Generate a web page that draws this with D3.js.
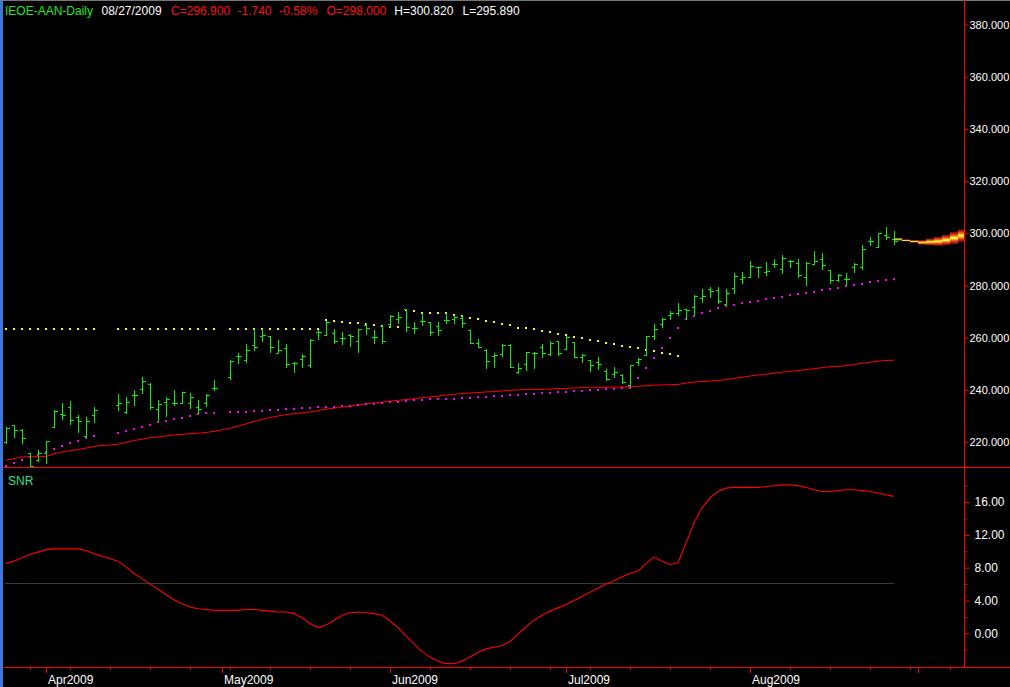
<!DOCTYPE html>
<html><head><meta charset="utf-8">
<script src="https://cdn.jsdelivr.net/npm/d3@7"></script>
<style>
html,body{margin:0;padding:0;background:#000;overflow:hidden}
svg{display:block}
text{font-family:"Liberation Sans",Arial,sans-serif}
</style></head><body>
<svg id="c" width="1010" height="687"></svg>
<script>
// ---------- DATA ----------
const firstDay = "2009-03-25", axisLastDay = "2009-09-11";
const holidays = ["2009-04-10","2009-04-13","2009-05-01"];
const N = null;
const open  = [220.2,226.4,224.7,216.0,213.2,216.0,225.7,230.7,233.3,229.5,222.4,230.3,N,N,234.1,231.4,238.1,240.2,242.3,232.6,235.4,234.9,235.1,234.9,233.3,234.9,240.6,N,244.8,252.8,251.5,257.3,260.7,260.7,254.0,255.9,250.2,251.9,249.4,262.1,261.2,261.9,260.0,260.9,258.9,265.0,260.4,264.6,265.1,267.2,270.9,263.9,266.3,266.0,264.6,266.8,267.0,267.7,263.0,258.1,255.3,253.0,253.7,257.1,246.9,249.9,254.2,256.6,253.7,258.6,255.8,258.4,252.7,251.5,250.8,247.4,246.1,245.6,241.8,250.7,253.2,260.7,265.3,268.6,269.3,270.9,271.6,275.2,278.8,278.3,273.0,279.0,282.6,283.4,287.2,285.2,288.2,286.5,289.3,288.8,283.4,288.2,290.3,285.9,282.1,282.6,287.2,287.0,296.9,294.6,299.2,298.0];
const high  = [225.7,226.4,224.9,216.0,217.0,220.3,232.3,234.9,235.8,230.4,229.5,233.3,N,N,238.4,237.2,240.0,244.8,242.5,236.1,237.2,240.0,239.2,238.7,236.1,238.4,243.8,N,251.5,254.0,257.6,263.2,263.2,260.7,259.1,257.6,250.8,253.8,259.4,263.0,266.5,263.2,262.2,261.4,263.2,265.5,263.0,264.9,268.7,269.7,271.0,266.0,269.6,266.0,266.0,269.6,268.6,268.6,263.0,259.4,255.8,254.0,257.6,257.6,250.2,254.6,254.5,257.6,258.6,258.6,260.7,258.4,253.7,251.5,252.5,247.9,248.7,246.1,249.4,252.2,260.7,265.3,267.6,270.1,273.2,271.1,276.2,278.5,279.3,279.3,278.5,284.7,285.2,289.3,287.2,289.0,290.0,291.8,289.8,290.0,289.0,293.1,292.3,285.9,284.4,284.7,288.5,295.4,298.5,300.2,302.3,300.82];
const low   = [219.8,222.1,219.8,210.6,212.9,212.1,225.7,229.0,227.1,223.9,222.1,227.7,N,N,232.3,231.3,234.4,239.0,232.6,228.2,230.0,234.2,234.9,233.1,231.0,233.8,240.0,N,244.3,250.2,250.5,255.1,258.6,254.7,254.0,248.9,247.0,248.9,248.7,259.4,261.2,258.1,257.6,256.8,254.6,261.4,257.9,258.1,264.2,265.8,262.7,261.9,265.0,261.0,261.0,265.8,265.8,264.0,257.9,256.3,248.4,248.9,253.0,248.7,246.6,247.6,248.4,252.7,253.2,253.2,255.8,252.5,250.7,247.4,248.1,243.8,245.1,242.8,241.5,249.7,253.2,259.4,264.2,267.3,268.8,267.3,268.6,273.7,275.7,273.2,272.7,277.3,281.1,283.1,283.1,283.9,287.2,284.7,287.0,283.1,280.3,288.2,286.5,280.8,281.9,280.1,285.2,286.5,295.6,294.6,297.7,295.89];
const close = [225.4,224.7,221.6,210.9,216.0,220.3,232.1,230.3,228.5,228.1,228.0,232.3,N,N,235.1,235.4,238.2,243.6,233.3,234.6,236.4,234.9,239.1,237.2,232.7,237.9,240.6,N,251.2,253.1,255.1,256.3,261.1,256.3,255.1,249.8,250.2,253.0,259.1,262.1,266.0,258.6,259.8,260.7,263.2,263.9,260.4,258.9,268.3,268.1,264.0,263.9,266.5,262.1,263.0,266.8,268.1,265.8,257.9,256.6,251.0,253.4,257.1,248.7,248.3,254.5,254.2,254.0,257.9,254.2,260.4,252.5,253.2,249.4,249.8,244.3,246.9,243.0,249.4,251.7,260.7,263.2,267.0,269.3,270.6,270.6,276.0,276.0,277.8,273.9,277.0,283.6,283.1,287.5,287.0,285.4,288.2,290.5,289.3,283.9,288.8,289.5,287.7,282.1,284.2,282.6,288.2,294.1,296.9,300.0,298.64,296.9];
const maRed = [213.0,213.7,214.3,214.4,214.4,214.5,215.5,216.2,216.7,217.2,217.7,218.3,218.7,218.9,219.2,219.9,220.6,221.1,221.7,222.0,222.4,222.7,223.0,223.2,223.4,223.7,224.1,224.7,225.3,226.1,227.0,227.9,228.7,229.4,230.0,230.5,230.9,231.2,231.5,232.1,232.6,233.0,233.4,233.8,234.2,234.6,235.0,235.3,235.7,236.0,236.3,236.6,237.0,237.3,237.6,238.0,238.3,238.6,238.8,239.0,239.2,239.4,239.6,239.8,240.0,240.1,240.2,240.2,240.3,240.5,240.6,240.7,240.9,241.0,241.0,241.0,241.1,241.1,241.3,241.4,241.6,241.8,241.9,242.0,242.1,242.6,243.0,243.2,243.4,243.6,243.9,244.4,244.8,245.3,245.7,246.0,246.4,246.8,247.1,247.4,247.8,248.1,248.5,248.9,249.0,249.3,249.7,250.2,250.6,251.0,251.3,251.4];
const dotsMagenta = [210.9,212.1,213.2,214.4,215.2,216.2,217.5,218.5,219.7,220.6,221.6,222.4,N,N,223.6,224.4,225.2,225.9,226.7,227.7,228.2,229.0,229.3,230.0,230.8,231.2,231.2,N,231.6,231.6,231.7,232.1,232.1,232.3,232.3,232.7,232.7,233.1,233.1,233.5,233.5,233.6,233.8,234.0,234.2,234.5,234.7,234.9,235.2,235.5,235.8,236.0,236.2,236.4,236.5,236.6,236.6,236.9,237.0,237.3,237.4,237.7,237.7,238.1,238.2,238.4,238.6,238.8,238.9,239.2,239.2,239.7,239.7,240.0,240.0,240.3,240.3,240.7,240.7,244.6,248.4,252.2,256.1,259.9,263.7,267.3,268.3,269.6,270.4,271.4,272.1,272.7,273.4,273.8,274.2,275.0,275.3,275.7,276.5,276.9,277.3,277.6,278.3,278.8,279.2,279.8,280.3,280.7,281.5,281.9,282.2,282.6];
const dotsYellow = [263.35,263.35,263.35,263.35,263.35,263.35,263.35,263.35,263.35,263.35,263.35,263.35,N,N,263.35,263.35,263.35,263.35,263.35,263.35,263.35,263.35,263.35,263.35,263.35,263.35,263.35,N,263.35,263.35,263.35,263.35,263.35,263.35,263.35,263.35,263.35,263.35,263.35,263.35,266.8,266.5,266.0,265.6,265.6,265.1,264.9,264.6,264.2,264.2,270.6,270.2,269.6,269.6,269.6,269.6,268.8,268.4,267.7,267.3,266.5,266.2,265.3,264.9,263.9,263.6,263.3,262.7,262.2,261.5,261.2,260.3,260.0,259.3,258.9,258.1,257.7,256.9,256.4,256.2,255.4,255.0,254.3,253.9,253.1];
const snr = [8.5,8.8,9.2,9.6,9.9,10.2,10.3,10.3,10.3,10.3,10.1,9.7,9.4,9.1,8.8,8.1,7.3,6.7,6.0,5.4,4.7,4.1,3.6,3.2,3.0,2.9,2.8,2.8,2.8,2.8,2.9,2.9,2.8,2.7,2.6,2.6,2.4,1.9,1.2,0.7,1.0,1.6,2.2,2.5,2.6,2.5,2.4,2.2,1.5,0.7,-0.3,-1.3,-2.2,-2.9,-3.4,-3.7,-3.7,-3.4,-2.9,-2.3,-1.9,-1.7,-1.5,-1.0,-0.1,0.8,1.6,2.2,2.7,3.1,3.5,4.0,4.5,5.0,5.5,6.0,6.4,6.9,7.3,7.6,8.5,9.3,8.8,8.4,8.6,11.0,13.5,15.3,16.5,17.3,17.7,17.8,17.8,17.8,17.8,17.9,18.0,18.1,18.1,18.0,17.8,17.5,17.3,17.3,17.4,17.5,17.5,17.4,17.3,17.1,16.9,16.7];
const snrRefLevel = 6.1;
const fanCenter = [297.7,297.3,296.9,296.5,296.7,296.9,297.4,298.2,299.1];
const fanHalf   = [0.2,0.4,0.5,0.9,1.3,1.7,2.0,2.3,2.4];
const priceTicks = [220,240,260,280,300,320,340,360,380];
const snrTicks = [0,4,8,12,16];
const snrMinorTicks = [-2,2,6,10,14,18];
const header = [
  {t:"IEOE-AAN-Daily", c:"#22e622", x:5},
  {t:"08/27/2009", c:"#ffffff", x:101.5},
  {t:"C=296.900", c:"#ff1010", x:171},
  {t:"-1.740", c:"#ff1010", x:237.5},
  {t:"-0.58%", c:"#ff1010", x:279.3},
  {t:"O=298.000", c:"#ff1010", x:326.5},
  {t:"H=300.820", c:"#ffffff", x:394.3},
  {t:"L=295.890", c:"#ffffff", x:462.5}
];

// ---------- SCALES ----------
const svg = d3.select("#c");
const W = 1010, H = 687;
const axisX = 964.5, sepY = 467.5, botY = 667.5;
const parse = d3.timeParse("%Y-%m-%d"), fmt = d3.timeFormat("%Y-%m-%d");
const days = d3.timeDay.range(parse(firstDay), d3.timeDay.offset(parse(axisLastDay),1))
  .filter(d => d.getDay() !== 0 && d.getDay() !== 6);
const nBars = close.length;
const x = d3.scaleLinear().domain([0, nBars-1]).range([6, 894]);
const y = d3.scaleLinear().domain([220, 380]).range([442.1, 24.5]);
const ys = d3.scaleLinear().domain([0, 16]).range([633.3, 502.1]);

svg.append("rect").attr("width",W).attr("height",H).attr("fill","#000");
const defs = svg.append("defs");
defs.append("clipPath").attr("id","cp1").append("rect").attr("x",3).attr("y",1).attr("width",axisX-3).attr("height",sepY-1);
defs.append("clipPath").attr("id","cp2").append("rect").attr("x",3).attr("y",sepY+0.5).attr("width",axisX-3).attr("height",botY-sepY-1);
const g = defs.append("linearGradient").attr("id","fang").attr("x1",0).attr("y1",0).attr("x2",0).attr("y2",1);
[["0%","#6a0a0a"],["18%","#d02818"],["34%","#ff7a2a"],["46%","#f4ff30"],["54%","#f4ff30"],["66%","#ff7a2a"],["82%","#d02818"],["100%","#6a0a0a"]]
  .forEach(s => g.append("stop").attr("offset",s[0]).attr("stop-color",s[1]));

// ---------- PRICE PANEL ----------
const p1 = svg.append("g").attr("clip-path","url(#cp1)");
p1.append("path").datum(maRed).attr("fill","none").attr("stroke","#ff0000").attr("stroke-width",1)
  .attr("d", d3.line().x((d,i)=>x(i)).y(d=>y(d)));
p1.selectAll(".yd").data(dotsYellow.map((v,i)=>({v,i})).filter(d=>d.v!==null)).join("rect")
  .attr("x",d=>Math.round(x(d.i))-1).attr("y",d=>Math.round(y(d.v))-1).attr("width",2).attr("height",2).attr("fill","#ffff00");
p1.selectAll(".md").data(dotsMagenta.map((v,i)=>({v,i})).filter(d=>d.v!==null)).join("rect")
  .attr("x",d=>Math.round(x(d.i))-1).attr("y",d=>Math.round(y(d.v))-1).attr("width",2).attr("height",2).attr("fill","#ff00ff");
const bars = close.map((c,i)=>({i,o:open[i],h:high[i],l:low[i],c})).filter(d=>d.c!==null);
const bg = p1.append("g").attr("stroke","#00f000").attr("stroke-width",1).attr("shape-rendering","crispEdges");
bars.forEach(d=>{
  const cx = Math.round(x(d.i))+0.5;
  bg.append("line").attr("x1",cx).attr("x2",cx).attr("y1",Math.round(y(d.h))).attr("y2",Math.round(y(d.l))+1);
  bg.append("line").attr("x1",cx-3).attr("x2",cx).attr("y1",Math.round(y(d.o))+0.5).attr("y2",Math.round(y(d.o))+0.5);
  bg.append("line").attr("x1",cx).attr("x2",cx+3).attr("y1",Math.round(y(d.c))+0.5).attr("y2",Math.round(y(d.c))+0.5);
});
fanCenter.forEach((c,k)=>{
  const x0 = x(nBars-1) + 8*k, hw = Math.max(1, y(c - fanHalf[k]) - y(c));
  p1.append("rect").attr("x",x0).attr("width",8).attr("y",y(c)-hw).attr("height",2*hw)
    .attr("fill", k===0 ? "#c8c830" : "url(#fang)");
});

// ---------- SNR PANEL ----------
const p2 = svg.append("g").attr("clip-path","url(#cp2)");
p2.append("line").attr("x1",5).attr("x2",x(nBars-1)).attr("y1",Math.round(ys(snrRefLevel))+0.5).attr("y2",Math.round(ys(snrRefLevel))+0.5)
  .attr("stroke","#3a3a3a").attr("stroke-width",1);
p2.append("path").datum(snr).attr("fill","none").attr("stroke","#ff0000").attr("stroke-width",1.1)
  .attr("d", d3.line().x((d,i)=>x(i)).y(d=>ys(d)));
svg.append("text").attr("x",8).attr("y",485).attr("fill","#2fe08a").attr("font-size",12).text("SNR");

// ---------- FRAME ----------
svg.append("rect").attr("x",0).attr("y",0).attr("width",3).attr("height",H).attr("fill","#3c78d8");
svg.append("line").attr("x1",0).attr("x2",W).attr("y1",0.5).attr("y2",0.5).attr("stroke","#777");
svg.append("line").attr("x1",3).attr("x2",W).attr("y1",sepY).attr("y2",sepY).attr("stroke","#ff0000");
svg.append("line").attr("x1",3).attr("x2",W).attr("y1",botY).attr("y2",botY).attr("stroke","#ff0000");
svg.append("line").attr("x1",axisX).attr("x2",axisX).attr("y1",0).attr("y2",botY).attr("stroke","#ff0000");

const ax1 = svg.append("g").attr("transform",`translate(${axisX},0)`)
  .call(d3.axisRight(y).tickValues(priceTicks).tickSize(4).tickPadding(1).tickFormat(d3.format(".3f")));
const ax2 = svg.append("g").attr("transform",`translate(${axisX},0)`)
  .call(d3.axisRight(ys).tickValues(snrTicks).tickSize(5).tickPadding(5).tickFormat(d3.format(".2f")));
const ax3 = svg.append("g").attr("transform",`translate(${axisX},0)`)
  .call(d3.axisRight(ys).tickValues(snrMinorTicks).tickSize(3).tickFormat(""));
[ax1,ax2,ax3].forEach(a=>{
  a.select(".domain").remove();
  a.selectAll("line").attr("stroke","#ff0000");
  a.selectAll("text").attr("fill","#ffffff").attr("font-size",12).attr("font-family","Liberation Sans, Arial, sans-serif");
});
ax1.selectAll("text").attr("font-size",11);

const mondays = days.map((d,i)=>({d,i})).filter(o=>o.d.getDay()===1).map(o=>o.i);
const monthStarts = days.map((d,i)=>({d,i})).filter(o=>o.i>0 && o.d.getMonth()!==days[o.i-1].getMonth()).map(o=>o.i);
const bx1 = svg.append("g").attr("transform",`translate(0,${botY})`)
  .call(d3.axisBottom(x).tickValues(mondays).tickSize(2.5).tickFormat(""));
const bx2 = svg.append("g").attr("transform",`translate(0,${botY})`)
  .call(d3.axisBottom(x).tickValues(monthStarts).tickSize(5.5).tickPadding(2)
    .tickFormat(i => x(i) < 900 ? d3.timeFormat("%b%Y")(days[i]) : ""));
[bx1,bx2].forEach(a=>{
  a.select(".domain").remove();
  a.selectAll("line").attr("stroke","#ff0000").attr("shape-rendering","crispEdges");
  a.selectAll("text").attr("fill","#ffffff").attr("font-size",12).attr("text-anchor","start").attr("dx",1.5)
    .attr("font-family","Liberation Sans, Arial, sans-serif");
});

header.forEach(h => svg.append("text").attr("x",h.x).attr("y",14.5).attr("fill",h.c).attr("font-size",12).text(h.t));
</script>
</body></html>
